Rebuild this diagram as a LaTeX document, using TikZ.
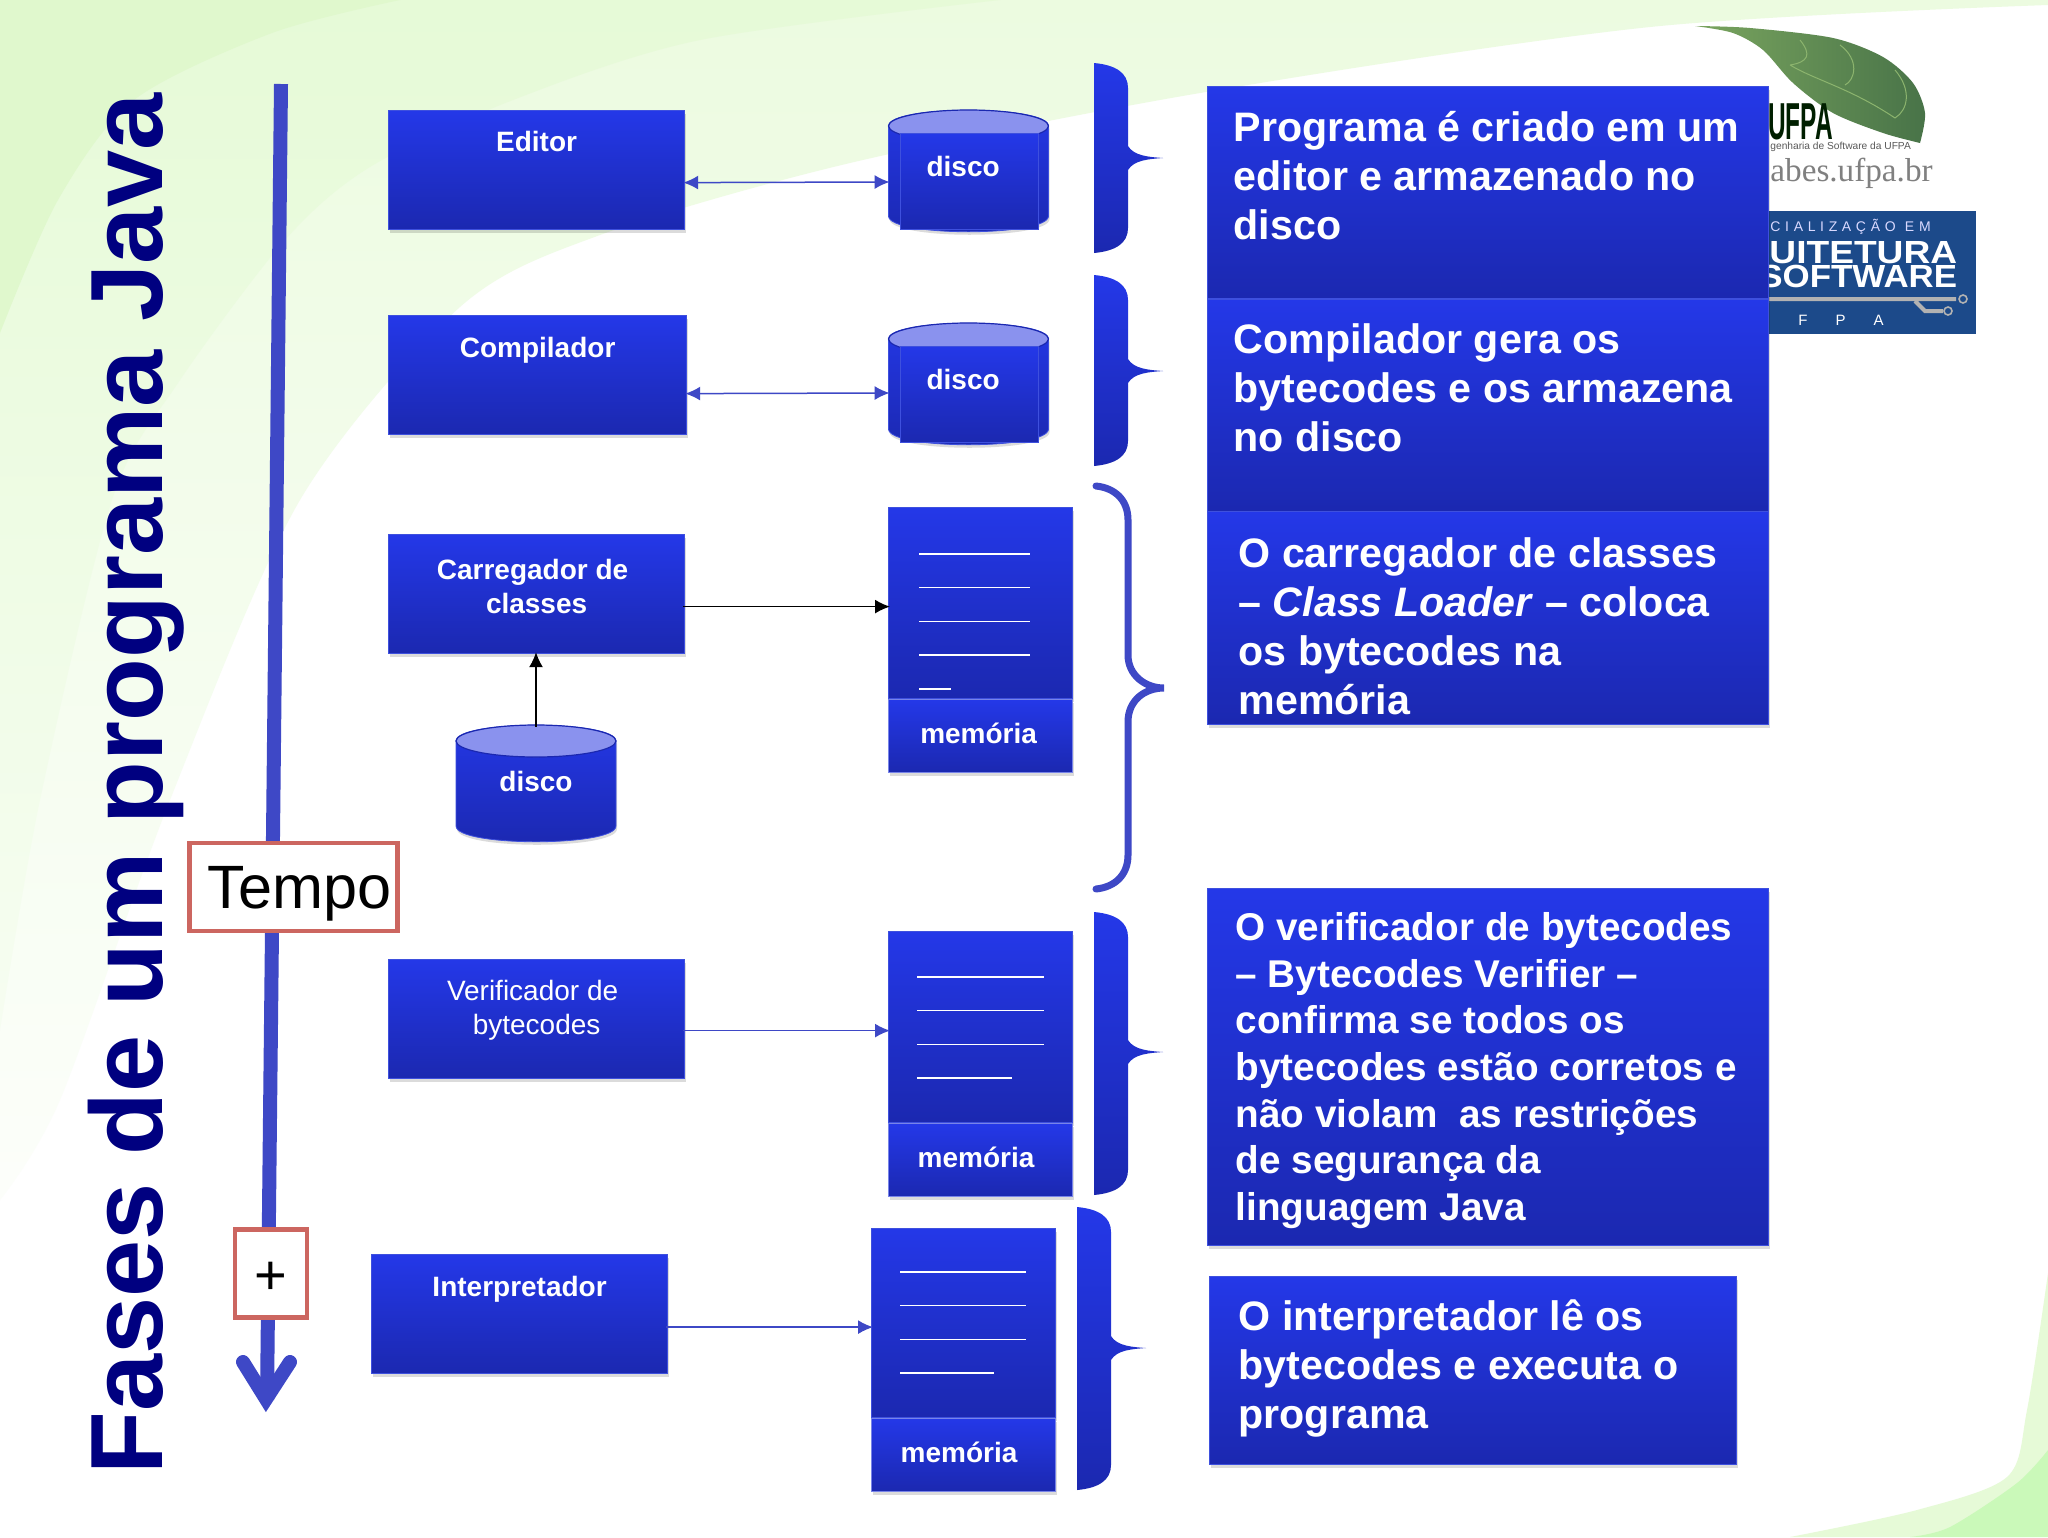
\documentclass[tikz,border=0pt]{standalone}
\usepackage{fontspec}
\setmainfont{Liberation Sans}
\newfontfamily\serifrm{Liberation Serif}
\usepackage{xcolor}
\definecolor{boxtop}{RGB}{36,56,232}
\definecolor{boxbottom}{RGB}{27,40,176}
\definecolor{boxedge}{RGB}{62,80,222}
\definecolor{discotopo}{RGB}{138,146,238}
\definecolor{linhatempo}{RGB}{62,72,198}
\definecolor{caixatempo}{RGB}{204,102,96}
\definecolor{titulo}{RGB}{0,0,128}
\definecolor{verde1}{RGB}{236,251,224}
\definecolor{verde2}{RGB}{230,250,215}
\definecolor{verde3}{RGB}{224,248,205}
\definecolor{logoazul}{RGB}{28,74,138}
\definecolor{folha1}{RGB}{122,165,95}
\definecolor{folha2}{RGB}{72,115,72}
\definecolor{folhaveio}{RGB}{140,180,110}
\usetikzlibrary{arrows.meta}
\usetikzlibrary{shadows}
\newcommand{\fonte}[2]{\fontsize{#1}{#2}\selectfont}
\newcommand{\caixatexto}[5]{\parbox[c][#1][t]{#2}{\leftskip=#3\rightskip=0pt plus 1fil\parindent=0pt\vspace*{#4}#5}}
\newcommand{\chave}[4]{
    \path[azul] (#1,#2) .. controls (#1+22,#2+2) and (#1+34,#2+10) .. (#1+34,#2+25)
        -- (#1+34,#3-12) .. controls (#1+40,#3-2) and (#1+55,#3-1) .. (#1+69,#3)
        .. controls (#1+55,#3+1) and (#1+40,#3+2) .. (#1+34,#3+12)
        -- (#1+34,#4-25) .. controls (#1+34,#4-10) and (#1+22,#4-2) .. (#1,#4) -- cycle;
}
\newcommand{\discocorpo}[3]{
    \path[azul, draw=boxedge, sombra] (#1-80,#2+16) .. controls (#1-80,#2-5) and (#1+80,#2-5) .. (#1+80,#2+16)
        -- (#1+80,#3-16) .. controls (#1+80,#3+5) and (#1-80,#3+5) .. (#1-80,#3-16) -- cycle;
    \path[discotampa] (#1,#2+16) ellipse [x radius=40pt, y radius=8pt];
}
\tikzset{
    azul/.style={top color=boxtop, bottom color=boxbottom},
    sombra/.style={drop shadow={shadow xshift=0.5pt, shadow yshift=-1.5pt, opacity=0.14, fill=black}},
    common/.style={azul, draw=boxedge, line width=0.6pt, sombra, rectangle, anchor=north west, text=white, inner sep=0pt},
    bloco/.style={common, minimum width=148pt, minimum height=59.5pt, align=center, font=\fonte{14}{17}\bfseries, text height=10pt},
    memoria/.style={common, minimum width=92pt},
    memrotulo/.style={memoria, minimum height=36.5pt, draw=boxedge!70!white, font=\fonte{14}{17}\bfseries, text depth=3pt},
    memlinha/.style={white, line width=0.7pt},
    discoarea/.style={rectangle, minimum width=80.5pt, inner sep=0pt, text=white, font=\fonte{14}{17}\bfseries},
    discotampa/.style={fill=discotopo, draw=boxbottom, line width=0.6pt},
    painel/.style={azul, draw=boxedge, line width=0.6pt, rectangle, anchor=north west, text=white, inner sep=0pt, minimum width=69pt, minimum height=48pt, font=\fonte{14}{17}\bfseries, text height=10pt, text depth=15pt},
    caixa/.style={common, align=left, font=\fonte{20.6}{24.5}\bfseries},
    caixamenor/.style={caixa, font=\fonte{19.35}{23.3}\bfseries},
    conector/.style={linhatempo, line width=0.75pt, shorten <=-1pt, shorten >=-1pt, >={Latex[length=7.5pt,width=7pt]}},
    conectorpreto/.style={conector, black},
    tempo/.style={draw=caixatempo, line width=2.4pt, fill=white, inner sep=0pt, text=black},
    logotexto/.style={anchor=base west, inner sep=0pt, text depth=0pt}
}
\begin{document}
\begin{tikzpicture}[x=0.5pt,y=-0.5pt]
    \useasboundingbox (0,0) rectangle (2048,1537);
    \fill[white] (0,0) rectangle (2048,1537);

    % fundo
    \path[top color=verde1, bottom color=verde1!15!white] (0,0) -- (2048,0) -- plot[smooth] coordinates {(2048,5) (1650,27) (1200,93) (850,163) (600,235) (460,307) (300,500) (170,800) (60,1100) (0,1200)} -- cycle;
    \path[top color=verde2, bottom color=verde2!35!white] (0,0) -- (1000,0) -- plot[smooth] coordinates {(1000,0) (700,40) (513,100) (370,167) (285,240) (178,383) (112,500) (40,800) (0,1030)} -- cycle;
    \fill[verde3] (0,0) -- (400,0) -- plot[smooth] coordinates {(400,0) (272,33) (134,100) (58,200) (0,333)} -- cycle;
    \fill[verde2] (2048,1537) -- (2048,1273) -- plot[smooth] coordinates {(2048,1273) (2027,1410) (2007,1477) (1917,1510) (1790,1537)} -- cycle;
    \fill[verde3!90!green] (2048,1537) -- (2048,1450) -- plot[smooth] coordinates {(2048,1450) (2017,1483) (1950,1527) (1910,1537)} -- cycle;

    % logos
    \path[left color=folha1, right color=folha2]
        plot[smooth] coordinates {(1695,26) (1750,28) (1833,38) (1883,57) (1913,83) (1925,113) (1920,143)}
        -- plot[smooth] coordinates {(1920,143) (1883,133) (1833,113) (1793,83) (1763,50) (1733,33) (1695,26)};
    \draw[folhaveio, line width=0.5pt] (1790,65) .. controls (1815,80) and (1850,88) .. (1895,118)
        (1800,40) .. controls (1812,55) and (1808,62) .. (1790,65)
        (1840,45) .. controls (1860,60) and (1855,80) .. (1845,85)
        (1895,70) .. controls (1912,90) and (1908,110) .. (1895,118);
    \node[logotexto, xscale=0.47, font=\fonte{26}{26}\bfseries, text=green!12!black] (ufpa) at (1768,139) {UFPA};
    \node[logotexto, font=\fonte{5.1}{6}, text=black!65, text height=3.5pt] (ufpasub) at (1770,149) {genharia de Software da UFPA};
    \node[logotexto, font=\fonte{16.6}{17}\serifrm, text=black!50] (labes) at (1770,181) {abes.ufpa.br};
    \node[anchor=north west, fill=logoazul, minimum width=104pt, minimum height=61.5pt, inner sep=0pt] (esp) at (1768,211) {};
    \node[logotexto, font=\fonte{7}{8}, text=white!85!blue] (esp1) at (1770,231) {C\,\,I\,\,A\,\,L\,\,I\,\,Z\,\,A\,\,Ç\,\,Ã\,\,O\,\,\,\,E\,\,M};
    \node[logotexto, xscale=1.16, font=\fonte{16}{16}\bfseries, text=white, text height=11.4pt] (esp2) at (1769,263) {UITETURA};
    \node[logotexto, xscale=1.09, font=\fonte{16}{16}\bfseries, text=white, text height=11.4pt] (esp3) at (1759,287) {SOFTWARE};
    \draw[black!30, line width=2pt] (1768,299) -- (1956,299) (1915,301) -- (1925,311) -- (1943,311);
    \draw[black!30, line width=0.8pt] (1963,299) circle [radius=2pt] (1948,311) circle [radius=2pt];
    \node[logotexto, font=\fonte{7.5}{8}, text=white] (esp4) at (1798,325) {F\hspace{14pt}P\hspace{14pt}A};

    % titulo e linha do tempo
    \node[rotate=90, anchor=base west, inner sep=0pt, font=\fonte{51.35}{52}\bfseries, text=titulo] (titulo) at (162,1475) {Fases de um programa Java};
    \coordinate (t0) at (281,84);
    \coordinate (t1) at (267,1400);
    \draw[linhatempo, line width=7pt] (t0) -- (t1);
    \draw[linhatempo, line width=7pt, line cap=round, line join=miter] (243,1362) -- (266,1399) -- (290,1362);
    \node[tempo, minimum width=104pt, minimum height=44pt, font=\fonte{30.6}{31}, text depth=0pt] (tempo) at (293.5,887) {\hspace{6pt}Tempo};
    \node[tempo, minimum width=36pt, minimum height=44pt, font=\fonte{28}{28}, text height=21pt, text depth=0pt] (mais) at (271,1273.5) {+};

    % blocos
    \node[bloco, text depth=29pt] (editor) at (388,110) {Editor};
    \node[bloco, text depth=28pt, minimum width=149pt] (compilador) at (388,315) {Compilador};
    \node[bloco, text height=19pt, text depth=0pt] (carregador) at (388,534) {Carregador de\hspace*{4pt}\\classes};
    \node[bloco, text height=15pt, text depth=0pt, font=\fonte{14}{17}] (verificador) at (388,959) {Verificador de\hspace*{4pt}\\bytecodes};
    \node[bloco, text depth=28pt] (interpretador) at (371,1254) {Interpretador};

    % discos
    \discocorpo{968.5}{110}{232}
    \node[discoarea, minimum height=61pt] (disco1) at (968.5,171) {};
    \node[painel] (disco1p) at (900,133) {disco\hspace*{6.5pt}};
    \discocorpo{968.5}{323}{445}
    \node[discoarea, minimum height=61pt] (disco2) at (968.5,384) {};
    \node[painel] (disco2p) at (900,346) {disco\hspace*{6.5pt}};
    \discocorpo{536}{725}{842}
    \node[discoarea, minimum height=58.5pt, text depth=2pt] (disco3) at (536,783.5) {disco};

    % memorias
    \node[memoria, minimum height=95.5pt] (mem1) at (888,507) {};
    \node[memrotulo] (mem1l) at (mem1.south west) {memória\hspace*{2pt}};
    \foreach \i in {0,...,3}
        \draw[memlinha] ([shift={(31,47+33.7*\i)}]mem1.north west) -- ++(111,0);
    \draw[memlinha] ([shift={(31,181.8)}]mem1.north west) -- ++(32,0);

    \node[memoria, minimum height=95.5pt] (mem2) at (888,931) {};
    \node[memrotulo] (mem2l) at (mem2.south west) {memória\hspace*{4.6pt}};
    \foreach \i in {0,...,2}
        \draw[memlinha] ([shift={(29,46+33.7*\i)}]mem2.north west) -- ++(127,0);
    \draw[memlinha] ([shift={(29,147)}]mem2.north west) -- ++(95,0);

    \node[memoria, minimum height=94.5pt] (mem3) at (871,1228) {};
    \node[memrotulo] (mem3l) at (mem3.south west) {memória\hspace*{4.6pt}};
    \foreach \i in {0,...,2}
        \draw[memlinha] ([shift={(29,44+33.7*\i)}]mem3.north west) -- ++(126,0);
    \draw[memlinha] ([shift={(29,145)}]mem3.north west) -- ++(94,0);

    % chaves
    \chave{1094}{63}{158}{253}
    \chave{1094}{275}{371}{466}
    \draw[linhatempo, line width=3.5pt, line cap=round] (1096,486) .. controls (1115,488) and (1128,500) .. (1128,520)
        -- (1128,655) .. controls (1128,675) and (1145,688) .. (1164,688)
        .. controls (1145,688) and (1128,700) .. (1128,722)
        -- (1128,855) .. controls (1128,875) and (1115,887) .. (1096,889);
    \chave{1094}{912}{1052}{1195}
    \chave{1077}{1207}{1348}{1490}

    % conectores
    \draw[conector, <->] ([yshift=-6.25pt]editor.east) -- ([yshift=-5.5pt]disco1.west);
    \draw[conector, <->] ([yshift=-9.25pt]compilador.east) -- ([yshift=-4.5pt]disco2.west);
    \draw[conectorpreto, ->] ([yshift=-6.25pt]carregador.east) -- ([yshift=-1.75pt]mem1.west);
    \draw[conectorpreto, ->] (disco3.north) -- (disco3.north |- carregador.south);
    \draw[conector, ->] ([yshift=-5.75pt]verificador.east) -- ([yshift=-1.75pt]mem2.west);
    \draw[conector, ->] ([yshift=-6.5pt]interpretador.east) -- ([yshift=-2pt]mem3.west);

    % textos
    \node[caixa] (texto1) at (1207,86) {\caixatexto{106pt}{280.5pt}{13pt}{12.4pt}{Programa é criado em um\\editor e armazenado no\\disco}};
    \node[caixa] (texto2) at (1207,299) {\caixatexto{106pt}{280.5pt}{13pt}{12.2pt}{Compilador gera os\\bytecodes e os armazena\\no disco}};
    \node[caixa] (texto3) at (1207,511) {\caixatexto{106.5pt}{280.5pt}{15.5pt}{13.2pt}{O carregador de classes\\– \textit{Class Loader} – coloca\\os bytecodes na\\memória}};
    \node[caixamenor] (texto4) at (1207,888) {\caixatexto{178.5pt}{280.5pt}{14pt}{12pt}{O verificador de bytecodes\\– Bytecodes Verifier –\\confirma se todos os\\bytecodes estão corretos e\\não violam\ \ as restrições\\de segurança da\\linguagem Java}};
    \node[caixa] (texto5) at (1209,1276) {\caixatexto{94pt}{263.5pt}{14.5pt}{11.6pt}{O interpretador lê os\\bytecodes e executa o\\programa}};
\end{tikzpicture}
\end{document}
